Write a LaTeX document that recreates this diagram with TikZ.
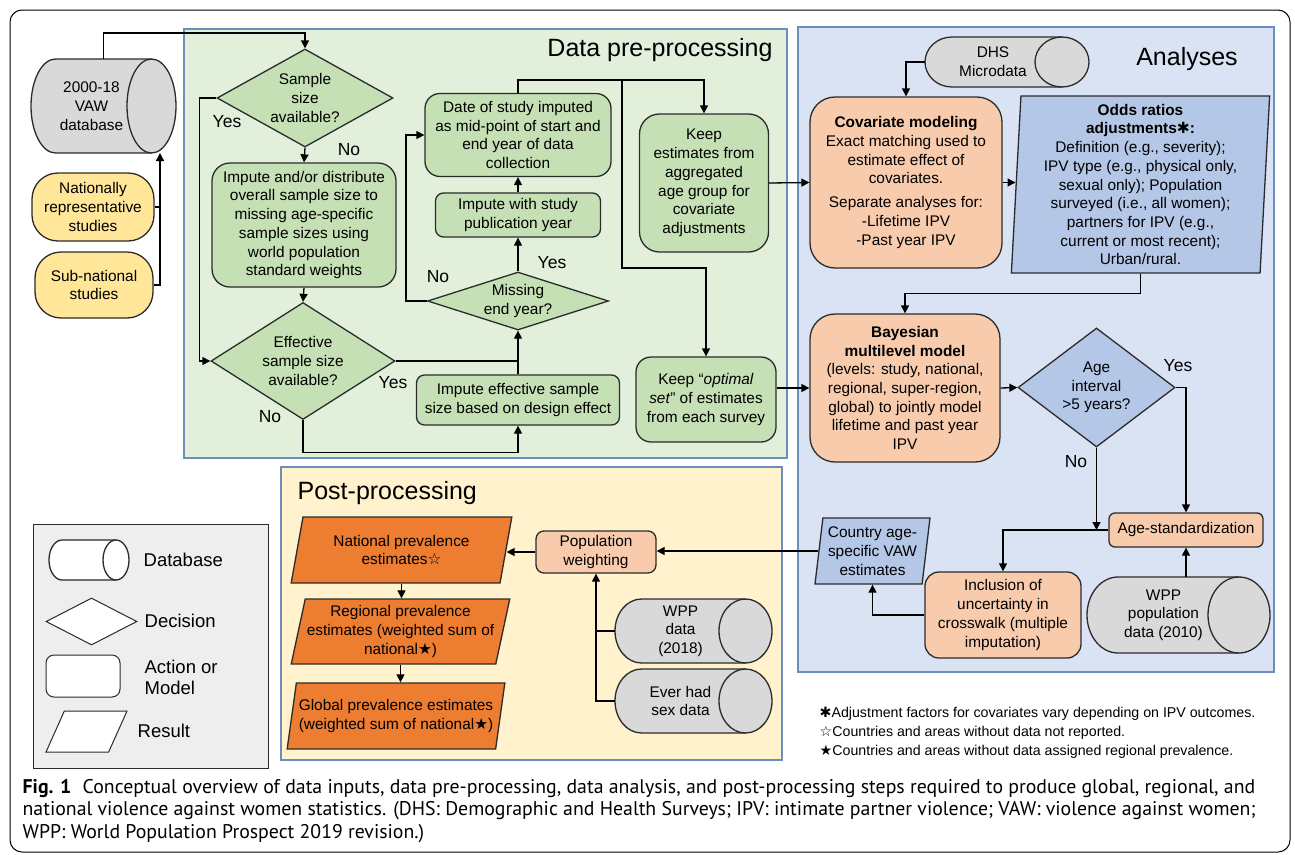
\documentclass[tikz,border=0pt]{standalone}
\usepackage{fontspec}
\setmainfont{Liberation Sans}
\newfontfamily\capfont{PT Sans}
\newfontfamily\symfont{DejaVu Sans}
\usetikzlibrary{positioning, arrows.meta, shapes.geometric}

\definecolor{preGreen}{HTML}{E2EFDA}
\definecolor{anaBlue}{HTML}{DAE3F3}
\definecolor{postYellow}{HTML}{FFF2CC}
\definecolor{boxGreen}{HTML}{C5E0B4}
\definecolor{boxBlue}{HTML}{B4C7E7}
\definecolor{boxPeach}{HTML}{F8CBAD}
\definecolor{resOrange}{HTML}{ED7D31}
\definecolor{dbGray}{HTML}{D9D9D9}
\definecolor{inYellow}{HTML}{FFE699}
\definecolor{frameBlue}{HTML}{6C8EBF}
\definecolor{legGray}{HTML}{EEEEEE}
\definecolor{lineDark}{HTML}{2B2B2B}

\newcommand{\adjmark}{{\symfont ✱}}
\newcommand{\nodatamark}{{\symfont ☆}}
\newcommand{\regmark}{{\symfont ★}}

% outline of a lying cylinder round node #1: cap radius #2, half height #3, fill #4
\newcommand{\drawdb}[4]{%
	\draw[dbline, fill=#4] ([xshift=#2]#1.north west) -- ([xshift=-#2]#1.north east)
		arc[start angle=90, end angle=-90, x radius=#2, y radius=#3]
		-- ([xshift=#2]#1.south west)
		arc[start angle=270, end angle=90, x radius=#2, y radius=#3] -- cycle;
	\draw[dbline] ([xshift=-#2]#1.north east) arc[start angle=90, end angle=270, x radius=#2, y radius=#3];
}

\begin{document}
\begin{tikzpicture}[
	x=1pt, y=-1pt,
	txt/.style={font=\fontsize{15.4}{18.7}\selectfont, align=center},
	action/.style={rectangle, draw=lineDark, line width=1.3pt, inner sep=2pt, txt},
	decision/.style={diamond, draw=lineDark, line width=1.3pt, inner sep=0pt, txt},
	dbase/.style={rectangle, inner sep=0pt, outer sep=0pt},
	dbline/.style={draw=lineDark, line width=1.3pt},
	result/.style={trapezium, trapezium stretches=true, draw=lineDark, line width=1.3pt, inner sep=1pt, txt},
	region/.style={rectangle, draw=frameBlue, line width=1.3pt, inner sep=0pt},
	regiontitle/.style={font=\fontsize{25}{30}\selectfont, anchor=base, inner sep=0pt},
	answer/.style={font=\fontsize{17.5}{20}\selectfont},
	legendtext/.style={font=\fontsize{18.5}{21}\selectfont, anchor=west, align=left, inner sep=0pt},
	>={Triangle[length=8pt, width=8pt]},
	line width=1.3pt
]
\useasboundingbox (0,0) rectangle (1295,854);

\node[draw, line width=1pt, rounded corners=12pt, minimum width=1280pt, minimum height=842pt] (figframe) at (650,431) {};

\node[region, fill=preGreen, minimum width=603pt, minimum height=429pt] (prebox) at (485.5,243.5) {};
\node[region, fill=anaBlue, minimum width=476pt, minimum height=645pt] (anabox) at (1036,349.5) {};
\node[region, fill=postYellow, minimum width=501pt, minimum height=293pt] (postbox) at (531.5,613.5) {};
\node[draw=lineDark, line width=1pt, fill=legGray, minimum width=235pt, minimum height=244pt] (legbox) at (150.5,646) {};

\node[regiontitle] (pretitle) at (660,56) {Data pre-processing};
\node[regiontitle] (anatitle) at (1187,65) {Analyses};
\node[regiontitle, anchor=base west] (posttitle) at (297,499) {Post-processing};

\node[dbase, minimum width=145pt, minimum height=94pt] (vawdb) at (103.5,106) {};
\drawdb{vawdb}{24.5pt}{47pt}{dbGray}
\node[txt] (vawdbtext) at ([xshift=-12pt]vawdb.center) {2000-18\\VAW\\database};
\node[action, fill=inYellow, rounded corners=26pt, minimum width=122pt, minimum height=68pt] (natstudies) at (93,207) {Nationally\\representative\\studies};
\node[action, fill=inYellow, rounded corners=26pt, minimum width=118pt, minimum height=66pt] (substudies) at (94,285) {Sub-national\\studies};

\node[decision, fill=boxGreen, aspect=1.8, minimum width=176pt, minimum height=98pt] (sizeq) at (305,98) {Sample\\size\\available?};
\node[action, fill=boxGreen, rounded corners=18pt, minimum width=184pt, minimum height=124pt] (sizeimpute) at (304,225) {Impute and/or distribute\\overall sample size to\\missing age-specific\\sample sizes using\\world population\\standard weights};
\node[decision, fill=boxGreen, aspect=1.57, minimum width=184pt, minimum height=117pt] (effq) at (303,361) {Effective\\sample size\\available?};
\node[action, fill=boxGreen, rounded corners=8pt, minimum width=203pt, minimum height=50pt] (effimpute) at (518,400) {Impute effective sample\\size based on design effect};
\node[decision, fill=boxGreen, aspect=3.1, minimum width=181pt, minimum height=58pt] (endq) at (518,301) {Missing\\end year?};
\node[action, fill=boxGreen, rounded corners=8pt, minimum width=165pt, minimum height=44pt] (pubimpute) at (518,215) {Impute with study\\publication year};
\node[action, fill=boxGreen, rounded corners=15pt, minimum width=186pt, minimum height=83pt] (midpoint) at (518,135) {Date of study imputed\\as mid-point of start and\\end year of data\\collection};
\node[action, fill=boxGreen, rounded corners=20pt, minimum width=129pt, minimum height=138pt] (keepagg) at (704,183) {Keep\\estimates from\\aggregated\\age group for\\covariate\\adjustments};
\node[action, fill=boxGreen, rounded corners=15pt, minimum width=140pt, minimum height=85pt] (keepopt) at (706,399.5) {Keep “\textit{optimal}\\\textit{set}” of estimates\\from each survey};

\node[answer] (sizeyes) at (227,122) {Yes};
\node[answer] (sizeno) at (349,150) {No};
\node[answer] (effyes) at (393,383) {Yes};
\node[answer] (effno) at (270,417) {No};
\node[answer] (endyes) at (552,263) {Yes};
\node[answer] (endno) at (438,277) {No};

\node[dbase, minimum width=164pt, minimum height=50pt] (dhs) at (1007,62) {};
\drawdb{dhs}{27pt}{25pt}{dbGray}
\node[txt] (dhstext) at ([xshift=-14pt]dhs.center) {DHS\\Microdata};
\node[action, fill=boxPeach, rounded corners=25pt, minimum width=192pt, minimum height=171pt] (covmodel) at (906,182.5) {\textbf{Covariate modeling}\\Exact matching used to\\estimate effect of\\covariates.\\[5pt]Separate analyses for:\\-Lifetime IPV\\-Past year IPV};
\node[result, fill=boxBlue, trapezium left angle=87.25, trapezium right angle=92.75, minimum width=259pt, minimum height=177pt] (oddsadj) at (1140.5,184.5) {\textbf{Odds ratios}\\\textbf{adjustments}\adjmark\textbf{:}\\Definition (e.g., severity);\\IPV type (e.g., physical only,\\sexual only); Population\\surveyed (i.e., all women);\\partners for IPV (e.g.,\\current or most recent);\\Urban/rural.};
\node[action, fill=boxPeach, rounded corners=25pt, minimum width=190pt, minimum height=148pt] (bayes) at (905,388) {\textbf{Bayesian}\\\textbf{multilevel model}\\(levels: study, national,\\regional, super-region,\\global) to jointly model\\lifetime and past year\\IPV};
\node[decision, fill=boxBlue, aspect=1.32, minimum width=157pt, minimum height=119pt] (ageq) at (1096.5,387.5) {Age\\interval\\>5 years?};
\node[action, fill=boxPeach, rounded corners=6pt, minimum width=154pt, minimum height=34pt] (agestd) at (1186,530) {Age-standardization};
\node[action, fill=boxPeach, rounded corners=14pt, minimum width=156pt, minimum height=86pt] (crosswalk) at (1003,615) {Inclusion of\\uncertainty in\\crosswalk (multiple\\imputation)};
\node[dbase, minimum width=183pt, minimum height=76pt] (wpppop) at (1178.5,615) {};
\drawdb{wpppop}{31pt}{38pt}{dbGray}
\node[txt] (wpppoptext) at ([xshift=-15pt]wpppop.center) {WPP\\population\\data (2010)};
\node[result, fill=boxBlue, trapezium left angle=81.8, trapezium right angle=98.2, minimum width=115pt, minimum height=66pt] (countryest) at (872.5,551) {Country age-\\specific VAW\\estimates};

\node[answer] (ageyes) at (1178,366) {Yes};
\node[answer] (ageno) at (1076,462) {No};

\node[action, fill=boxPeach, rounded corners=8pt, minimum width=120pt, minimum height=42pt] (popweight) at (596,552) {Population\\weighting};
\node[result, fill=resOrange, trapezium left angle=75.5, trapezium right angle=104.5, minimum width=221pt, minimum height=66pt] (national) at (401.5,550) {National prevalence\\estimates\nodatamark};
\node[result, fill=resOrange, trapezium left angle=75.5, trapezium right angle=104.5, minimum width=219pt, minimum height=65pt] (regional) at (400.5,631.5) {Regional prevalence\\estimates (weighted sum of\\national\regmark)};
\node[result, fill=resOrange, trapezium left angle=75.5, trapezium right angle=104.5, minimum width=218pt, minimum height=66pt] (global) at (396,716) {Global prevalence estimates\\(weighted sum of national\regmark)};
\node[dbase, minimum width=157pt, minimum height=64pt] (wppdata) at (693.5,631) {};
\drawdb{wppdata}{26.5pt}{32pt}{dbGray}
\node[txt] (wppdatatext) at ([xshift=-13pt]wppdata.center) {WPP\\data\\(2018)};
\node[dbase, minimum width=157pt, minimum height=64pt] (sexdata) at (693.5,701) {};
\drawdb{sexdata}{26.5pt}{32pt}{dbGray}
\node[txt] (sexdatatext) at ([xshift=-13pt]sexdata.center) {Ever had\\sex data};

\node[dbase, minimum width=80pt, minimum height=40pt] (legdb) at (89,560) {};
\drawdb{legdb}{13pt}{20pt}{white}
\node[decision, fill=white, line width=1pt, aspect=1.94, minimum width=91pt, minimum height=47pt] (legdec) at (91.5,621.5) {};
\node[action, fill=white, line width=1pt, rounded corners=8pt, minimum width=74pt, minimum height=42pt] (legact) at (83,676) {};
\node[result, fill=white, line width=1pt, trapezium left angle=67.5, trapezium right angle=112.5, minimum width=81pt, minimum height=41pt] (legres) at (86.5,731.5) {};
\node[legendtext] (legdbtext) at (143,560) {Database};
\node[legendtext] (legdectext) at (144,621) {Decision};
\node[legendtext] (legacttext) at (144,677) {Action or\\Model};
\node[legendtext] (legrestext) at (137,731) {Result};

\node[anchor=base west, align=left, inner sep=0pt, font=\fontsize{14.2}{19}\selectfont] (notes) at (819,755) {\adjmark Adjustment factors for covariates vary depending on IPV outcomes.\\\nodatamark Countries and areas without data not reported.\\\regmark Countries and areas without data assigned regional prevalence.};

\node[anchor=base west, align=left, inner sep=0pt, font=\capfont\fontsize{19.8}{22.5}\selectfont] (caption) at (22,838) {\textbf{Fig. 1}\hspace{6pt} Conceptual overview of data inputs, data pre-processing, data analysis, and post-processing steps required to produce global, regional, and\\national violence against women statistics. (DHS: Demographic and Health Surveys; IPV: intimate partner violence; VAW: violence against women;\\WPP: World Population Prospect 2019 revision.)};

\coordinate (feed) at (160,0);
\draw (natstudies.east) -- (natstudies.east -| feed);
\draw[->] (substudies.east) -| (feed |- vawdb.south);
\draw[->] (vawdb.north) -- ++(0,-26) -| (sizeq.north);

\draw[->] (sizeq.west) -- ++(-17,0) |- (effq.west);
\draw[->] (sizeq.south) -- (sizeimpute.north);
\draw[->] (sizeimpute.south) -- (effq.north);
\draw (effq.east) -- (effq.east -| effimpute.north);
\draw[->] (effq.south) -- ++(0,32) -| (effimpute.south);
\draw[->] (effimpute.north) -- (endq.south);
\draw[->] (endq.north) -- (pubimpute.south);
\draw[->] (pubimpute.north) -- (midpoint.south);
\draw[->] (endq.west) -- ++(-21,0) |- (midpoint.west);
\draw[->] (midpoint.north) -- ++(0,-13) -| (keepagg.north);
\coordinate (split) at (622,81);
\draw[->] (split) -- ++(0,187) -| (keepopt.north);
\draw[->] (keepagg.east) -- (covmodel.west);
\draw[->] (keepopt.east |- bayes.west) -- (bayes.west);

\draw[->] (dhs.west) -| (covmodel.north);
\draw[->] (covmodel.east) -- (covmodel.east -| oddsadj.west);
\draw[->] (oddsadj.south) -- ++(0,20) -| (bayes.north);
\draw[->] (bayes.east) -- (ageq.west);
\draw[->] (ageq.east) -| (agestd.north);
\draw[->] (ageq.south) -- (ageq.south |- agestd.west);
\draw[->] (agestd.west) -| (crosswalk.north);
\draw[->] (agestd.south |- wpppop.north) -- (agestd.south);
\draw[->] (crosswalk.west) -| (countryest.south);
\draw[->] (countryest.west) -- (countryest.west -| popweight.east);

\draw[->] (popweight.west) -- (popweight.west -| national.east);
\draw[->] (national.center |- national.south) -- (national.center |- regional.north);
\draw[->] (regional.center |- regional.south) -- (regional.center |- global.north);
\draw (wppdata.west) -- (wppdata.west -| popweight.south);
\draw[->] (sexdata.west) -| (popweight.south);

\end{tikzpicture}
\end{document}
